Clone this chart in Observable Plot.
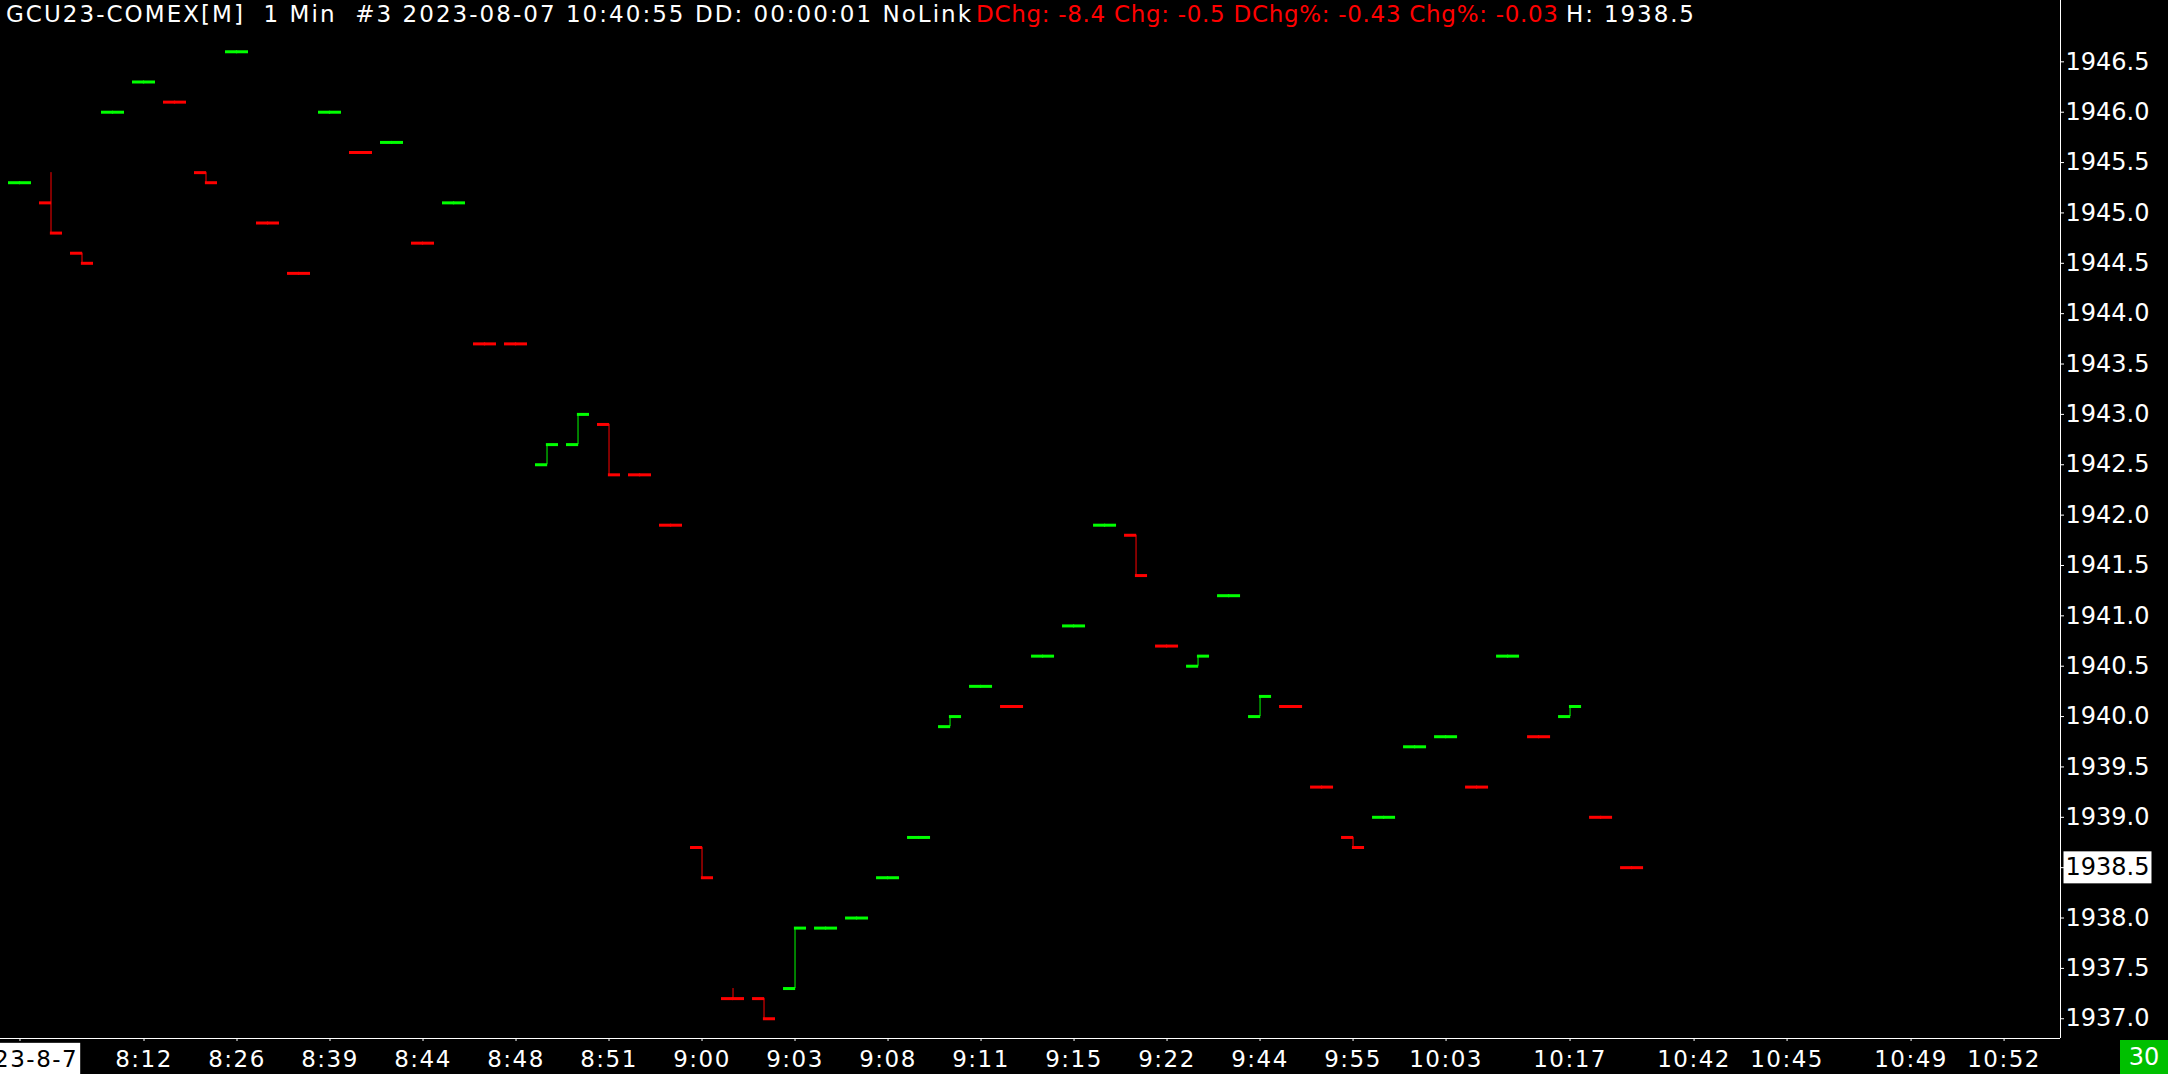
<!DOCTYPE html>
<html><head><meta charset="utf-8">
<script src="https://cdn.jsdelivr.net/npm/d3@7"></script>
<script src="https://cdn.jsdelivr.net/npm/@observablehq/plot@0.6"></script>
<style>
html,body{margin:0;padding:0;background:#000;}
#wrap{position:relative;width:2168px;height:1074px;overflow:hidden;background:#000;}
</style></head><body>
<div id="wrap"><div id="chart"></div></div>
<script>
// ---- data ----
const openP  = [1945.3,1945.1,1944.6,1946.0,1946.3,1946.1,1945.4,1946.6,1944.9,1944.4,1946.0,1945.6,1945.7,1944.7,1945.1,1943.7,1943.7,1942.5,1942.7,1942.9,1942.4,1941.9,1938.7,1937.2,1937.2,1937.3,1937.9,1938.0,1938.4,1938.8,1939.9,1940.3,1940.1,1940.6,1940.9,1941.9,1941.8,1940.7,1940.5,1941.2,1940.0,1940.1,1939.3,1938.8,1939.0,1939.7,1939.8,1939.3,1940.6,1939.8,1940.0,1939.0,1938.5];
const highP  = [1945.3,1945.4,1944.6,1946.0,1946.3,1946.1,1945.4,1946.6,1944.9,1944.4,1946.0,1945.6,1945.7,1944.7,1945.1,1943.7,1943.7,1942.7,1943.0,1942.9,1942.4,1941.9,1938.7,1937.3,1937.2,1937.9,1937.9,1938.0,1938.4,1938.8,1940.0,1940.3,1940.1,1940.6,1940.9,1941.9,1941.8,1940.7,1940.6,1941.2,1940.2,1940.1,1939.3,1938.8,1939.0,1939.7,1939.8,1939.3,1940.6,1939.8,1940.1,1939.0,1938.5];
const lowP   = [1945.3,1944.8,1944.5,1946.0,1946.3,1946.1,1945.3,1946.6,1944.9,1944.4,1946.0,1945.6,1945.7,1944.7,1945.1,1943.7,1943.7,1942.5,1942.7,1942.4,1942.4,1941.9,1938.4,1937.2,1937.0,1937.3,1937.9,1938.0,1938.4,1938.8,1939.9,1940.3,1940.1,1940.6,1940.9,1941.9,1941.4,1940.7,1940.5,1941.2,1940.0,1940.1,1939.3,1938.7,1939.0,1939.7,1939.8,1939.3,1940.6,1939.8,1940.0,1939.0,1938.5];
const closeP = [1945.3,1944.8,1944.5,1946.0,1946.3,1946.1,1945.3,1946.6,1944.9,1944.4,1946.0,1945.6,1945.7,1944.7,1945.1,1943.7,1943.7,1942.7,1943.0,1942.4,1942.4,1941.9,1938.4,1937.2,1937.0,1937.9,1937.9,1938.0,1938.4,1938.8,1940.0,1940.3,1940.1,1940.6,1940.9,1941.9,1941.4,1940.7,1940.6,1941.2,1940.2,1940.1,1939.3,1938.7,1939.0,1939.7,1939.8,1939.3,1940.6,1939.8,1940.1,1939.0,1938.5];
const tickIdx    = [0,4,7,10,13,16,19,22,25,28,31,34,37,40,43,46,50,54,57,61,64];
const tickLabels = ["2023-8-7","8:12","8:26","8:39","8:44","8:48","8:51","9:00","9:03","9:08","9:11","9:15","9:22","9:44","9:55","10:03","10:17","10:42","10:45","10:49","10:52"];
const priceTicks = [1937.0,1937.5,1938.0,1938.5,1939.0,1939.5,1940.0,1940.5,1941.0,1941.5,1942.0,1942.5,1943.0,1943.5,1944.0,1944.5,1945.0,1945.5,1946.0,1946.5];
const titleWhite = "GCU23-COMEX[M]  1 Min  #3 2023-08-07 10:40:55 DD: 00:00:01 NoLink";
const titleRed   = "DChg: -8.4 Chg: -0.5 DChg%: -0.43 Chg%: -0.03";
const titleHigh  = "H: 1938.5";
const timerText  = "30";

const UP = "#00ff00", DOWN = "#ff0000";

// build bar table; colour: close vs open, ties by close vs previous close, else previous colour
const bars = [];
let prevColor = UP;
for (let i = 0; i < openP.length; i++) {
  let c;
  if (closeP[i] > openP[i]) c = UP;
  else if (closeP[i] < openP[i]) c = DOWN;
  else if (i > 0 && closeP[i] > closeP[i-1]) c = UP;
  else if (i > 0 && closeP[i] < closeP[i-1]) c = DOWN;
  else c = prevColor;
  prevColor = c;
  bars.push({i, open: openP[i], high: highP[i], low: lowP[i], close: closeP[i], color: c});
}
const last = bars[bars.length - 1].close;
const half = 0.371;

const xDom = [-0.629, 65.82];
const yDom = [1936.804, 1947.109];

const chart = Plot.plot({
  width: 2168, height: 1074,
  marginTop: 0, marginLeft: 0, marginRight: 108, marginBottom: 36,
  style: {background: "#000", color: "#fff", fontFamily: "DejaVu Sans", overflow: "visible"},
  x: {domain: xDom, axis: null},
  y: {domain: yDom, axis: null},
  marks: [
    Plot.ruleX(bars, {x: "i", y1: "low", y2: "high", stroke: "color", strokeWidth: 1}),
    Plot.ruleY(bars, {y: "open", x1: d => d.i - half, x2: d => d.i + 0.02, stroke: "color", strokeWidth: 3}),
    Plot.ruleY(bars, {y: "close", x1: d => d.i - 0.02, x2: d => d.i + half, stroke: "color", strokeWidth: 3}),
    Plot.ruleX([xDom[1]], {stroke: "#fff", strokeWidth: 1}),
    Plot.ruleY([yDom[0]], {stroke: "#fff", strokeWidth: 1}),
    Plot.axisY(priceTicks, {anchor: "right", tickFormat: d3.format(".1f"), tickSize: 3, tickPadding: 2, fontSize: 24, color: "#fff"}),
    Plot.axisX(tickIdx, {anchor: "bottom", tickFormat: d => tickLabels[tickIdx.indexOf(d)], tickSize: 3, tickPadding: 9, fontSize: 23, color: "#fff"})
  ]
});
document.getElementById("chart").append(chart);

// slightly wider spacing for the time labels, as in the reference
d3.select(chart).selectAll('g[aria-label="x-axis tick label"] text').attr("letter-spacing", "1.5px");

const NS = "http://www.w3.org/2000/svg";
function boxText(t, padL, padR, padY) {
  const b = t.getBBox();
  const r = document.createElementNS(NS, "rect");
  r.setAttribute("x", b.x - padL); r.setAttribute("y", b.y - padY);
  r.setAttribute("width", b.width + padL + padR); r.setAttribute("height", b.height + 2 * padY);
  r.setAttribute("fill", "#fff"); r.setAttribute("stroke", "none");
  if (t.getAttribute("transform")) r.setAttribute("transform", t.getAttribute("transform"));
  t.parentNode.insertBefore(r, t);
  t.setAttribute("fill", "#000");
}
const lastLabel = d3.format(".1f")(last);
d3.select(chart).selectAll("text").each(function() {
  const s = this.textContent;
  if (s === lastLabel) boxText(this, 2, 2, 2);
  if (s === tickLabels[0]) boxText(this, 1, 2, 3);
});

// timer box bottom-right
const g = d3.select(chart).append("g");
g.append("rect").attr("x", 2120).attr("y", 1040).attr("width", 48).attr("height", 34).attr("fill", "#00c000");
g.append("text").attr("x", 2144).attr("y", 1057).attr("text-anchor", "middle").attr("dominant-baseline", "central")
  .attr("font-size", 24).attr("fill", "#fff").text(timerText);

// title line (three coloured segments, fitted to the reference widths)
const tg = d3.select(chart).append("g").attr("font-size", 23).attr("font-family", "DejaVu Sans").attr("text-anchor", "start");
const segs = [
  {text: titleWhite, x: 6, len: 965, fill: "#fff"},
  {text: titleRed, x: 976, len: 582, fill: "#ff0000"},
  {text: titleHigh, x: 1566, len: 128, fill: "#fff"}
];
for (const s of segs) {
  tg.append("text").attr("x", s.x).attr("y", 22).attr("fill", s.fill).attr("text-anchor", "start")
    .attr("textLength", s.len).attr("lengthAdjust", "spacing").style("white-space", "pre").text(s.text);
}
</script>
</body></html>
